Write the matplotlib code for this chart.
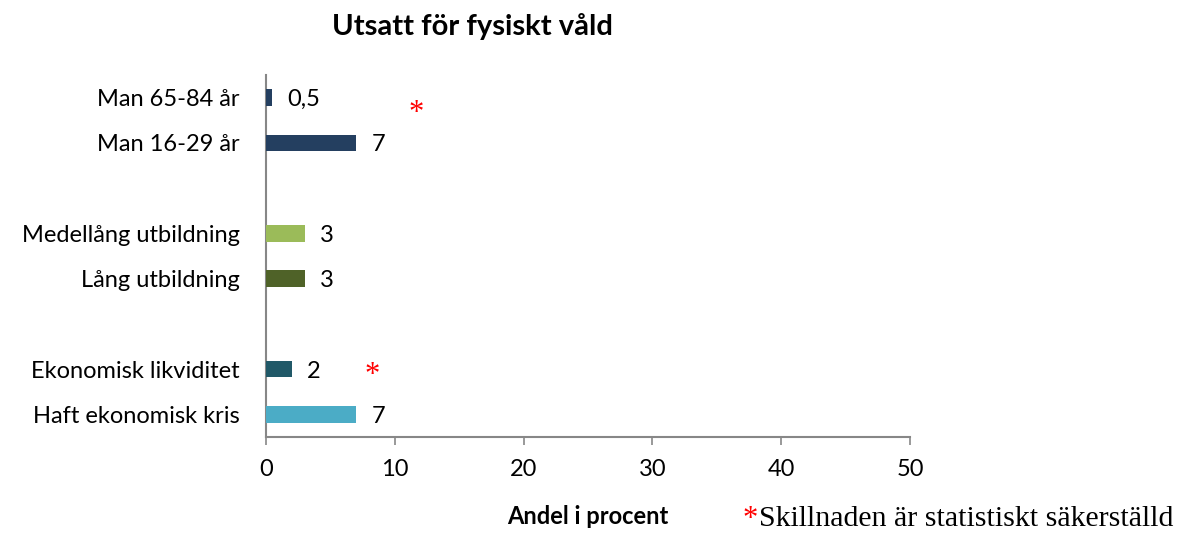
import matplotlib
matplotlib.use("Agg")
import matplotlib.pyplot as plt

categories = ["Haft ekonomisk kris", "Ekonomisk likviditet", "",
              "Lång utbildning", "Medellång utbildning", "",
              "Man 16-29 år", "Man 65-84 år"]
values = [7, 2, None, 3, 3, None, 7, 0.5]
value_labels = ["7", "2", "", "3", "3", "", "7", "0,5"]
colors = ["#4BACC6", "#215968", None, "#4F6228", "#9BBB59", None, "#243F60", "#243F60"]
xticks = [0, 10, 20, 30, 40, 50]

plt.rcParams['font.family'] = ['Lato', 'DejaVu Sans']

fig = plt.figure(figsize=(11.81, 5.33), dpi=100)
ax = fig.add_axes([266/1181, 1-437/533, (910-266)/1181, (437-75)/533])

for i, (v, c, lab) in enumerate(zip(values, colors, value_labels)):
    if v is None:
        continue
    ax.barh(i, v, height=0.36, color=c, zorder=3)
    ax.annotate(lab, (v, i), xytext=(11, 0), textcoords="offset points",
                va="center_baseline", ha="left", fontsize=17)

ax.set_xlim(0, 50)
ax.set_ylim(-0.5, len(categories) - 0.5)
ax.set_xticks(xticks)
ax.set_xticklabels([str(t) for t in xticks], fontsize=17)
ax.set_yticks(range(len(categories)))
ax.set_yticklabels(categories, fontsize=17)
ax.tick_params(axis='y', length=0, pad=19)
ax.tick_params(axis='x', length=6, width=1.2, color="#878787", pad=10, direction='out')
for s in ["top", "right"]:
    ax.spines[s].set_visible(False)
ax.spines["left"].set_color("#878787")
ax.spines["left"].set_linewidth(1.5)
ax.spines["bottom"].set_color("#878787")
ax.spines["bottom"].set_linewidth(1.5)

fig.text(472/1181, 1-27/533, "Utsatt för fysiskt våld", ha="center", va="center",
         fontsize=21, fontweight="bold")
ax.set_xlabel("Andel i procent", fontsize=17, fontweight="bold", labelpad=18)

fig.text(416/1181, 1-114/533, "*", color="red", fontsize=22, ha="center", va="center",
         family="Liberation Serif")
fig.text(372/1181, 1-376/533, "*", color="red", fontsize=22, ha="center", va="center",
         family="Liberation Serif")
fig.text(743/1181, 1-519/533, "*", color="red", fontsize=22, ha="left", va="center",
         family="Liberation Serif")
fig.text(759/1181, 1-519/533, "Skillnaden är statistiskt säkerställd", color="black",
         fontsize=21.5, ha="left", va="center", family="Liberation Serif")

fig.savefig("out.png", dpi=100)
